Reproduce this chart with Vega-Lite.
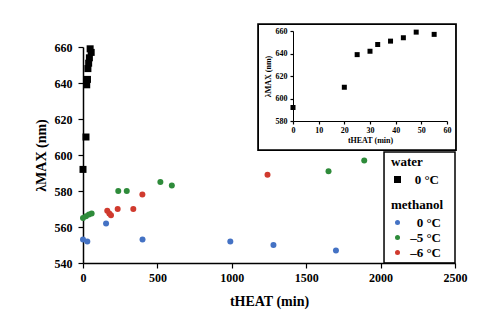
{
  "$schema": "https://vega.github.io/schema/vega-lite/v6.json",
  "width": 372,
  "height": 216,
  "autosize": "none",
  "padding": {"left": 83, "top": 47, "right": 45, "bottom": 71},
  "background": "white",
  "config": {
    "font": "Liberation Serif",
    "view": {"stroke": null},
    "axis": {
      "domainColor": "black", "domainWidth": 1.5, "tickColor": "black", "tickWidth": 1.2,
      "labelColor": "black", "titleColor": "black", "labelFont": "Liberation Serif", "titleFont": "Liberation Serif",
      "labelFontWeight": "bold", "titleFontWeight": "bold", "grid": false, "labelOverlap": false
    },
    "legend": {"titleFont": "Liberation Serif", "labelFont": "Liberation Serif"}
  },
  "datasets": {
    "water": [
      {"temp": "0 °C", "t": 0, "lam": 592},
      {"temp": "0 °C", "t": 20, "lam": 610},
      {"temp": "0 °C", "t": 25, "lam": 639},
      {"temp": "0 °C", "t": 30, "lam": 642},
      {"temp": "0 °C", "t": 33, "lam": 648},
      {"temp": "0 °C", "t": 38, "lam": 651},
      {"temp": "0 °C", "t": 43, "lam": 654},
      {"temp": "0 °C", "t": 48, "lam": 659},
      {"temp": "0 °C", "t": 55, "lam": 657}
    ],
    "methanol": [
      {"temp": "0 °C", "t": 0, "lam": 553},
      {"temp": "0 °C", "t": 29, "lam": 552},
      {"temp": "0 °C", "t": 155, "lam": 562},
      {"temp": "0 °C", "t": 400, "lam": 553},
      {"temp": "0 °C", "t": 990, "lam": 552},
      {"temp": "0 °C", "t": 1280, "lam": 550},
      {"temp": "0 °C", "t": 1700, "lam": 547},
      {"temp": "–5 °C", "t": 0, "lam": 565},
      {"temp": "–5 °C", "t": 20, "lam": 566},
      {"temp": "–5 °C", "t": 40, "lam": 567},
      {"temp": "–5 °C", "t": 58, "lam": 567.5},
      {"temp": "–5 °C", "t": 237, "lam": 580},
      {"temp": "–5 °C", "t": 294, "lam": 580},
      {"temp": "–5 °C", "t": 520, "lam": 585},
      {"temp": "–5 °C", "t": 597, "lam": 583},
      {"temp": "–5 °C", "t": 1650, "lam": 591},
      {"temp": "–5 °C", "t": 1890, "lam": 597},
      {"temp": "–6 °C", "t": 163, "lam": 569},
      {"temp": "–6 °C", "t": 177, "lam": 567.5},
      {"temp": "–6 °C", "t": 188, "lam": 566.5},
      {"temp": "–6 °C", "t": 233, "lam": 570},
      {"temp": "–6 °C", "t": 338, "lam": 570},
      {"temp": "–6 °C", "t": 399, "lam": 578},
      {"temp": "–6 °C", "t": 1240, "lam": 589}
    ]
  },
  "layer": [
    {
      "layer": [
        {
          "data": {"name": "methanol"},
          "mark": {"type": "point", "shape": "circle", "filled": true, "size": 36, "opacity": 1},
          "encoding": {
            "x": {"field": "t", "type": "quantitative", "scale": {"domain": [0, 2500], "nice": false, "zero": false},
              "axis": {"values": [0, 500, 1000, 1500, 2000, 2500], "tickCount": 20, "format": "d", "title": "tHEAT (min)", "labelFontSize": 12, "titleFontSize": 14, "tickSize": 5, "labelPadding": 4, "titlePadding": 11, "labelFlush": false}},
            "y": {"field": "lam", "type": "quantitative", "scale": {"domain": [540, 660], "nice": false, "zero": false},
              "axis": {"values": [540, 560, 580, 600, 620, 640, 660], "tickCount": 20, "format": "d", "title": "λMAX (nm)", "labelFontSize": 12, "titleFontSize": 14, "tickSize": 5, "labelPadding": 6, "titlePadding": 6, "labelOverlap": false}},
            "color": {"field": "temp", "type": "nominal",
              "scale": {"domain": ["0 °C", "–5 °C", "–6 °C"], "range": ["#4472c4", "#2e8b3a", "#d03a2e"]},
              "legend": {"title": "methanol", "orient": "none", "legendX": 308, "legendY": 152,
                "titleFontSize": 13, "titleFontWeight": "bold", "titleColor": "black", "titlePadding": 4,
                "labelFontSize": 13, "labelFontWeight": "bold", "labelAlign": "right", "labelOffset": 37,
                "symbolType": "circle", "symbolSize": 25, "rowPadding": 1, "padding": 0,
                "encode": {"labels": {"update": {"fill": {"signal": "datum.label == '0 °C' ? '#4472c4' : (datum.label == '–5 °C' ? '#2e8b3a' : '#d03a2e')"}}}}}}
          }
        },
        {
          "data": {"name": "water"},
          "mark": {"type": "point", "filled": true, "size": 49, "opacity": 1, "color": "black"},
          "encoding": {
            "x": {"field": "t", "type": "quantitative"},
            "y": {"field": "lam", "type": "quantitative"},
            "shape": {"field": "temp", "type": "nominal", "scale": {"domain": ["0 °C"], "range": ["square"]},
              "legend": {"title": "water", "orient": "none", "legendX": 308, "legendY": 109,
                "titleFontSize": 13, "titleFontWeight": "bold", "titleColor": "black", "titlePadding": 4,
                "labelFontSize": 13, "labelFontWeight": "bold", "labelColor": "black", "labelAlign": "right", "labelOffset": 35,
                "symbolSize": 49, "symbolFillColor": "black", "symbolStrokeColor": "black", "padding": 0}}
          }
        },
        {
          "data": {"values": [{}]},
          "mark": {"type": "rect", "fillOpacity": 0, "stroke": "black", "strokeWidth": 1.5},
          "encoding": {
            "x": {"datum": 2023, "type": "quantitative"},
            "x2": {"datum": 2500},
            "y": {"datum": 601.7, "type": "quantitative"},
            "y2": {"datum": 540}
          }
        }
      ]
    },
    {
      "layer": [
        {
          "data": {"values": [{}]},
          "mark": {"type": "rect", "fillOpacity": 0, "stroke": "black", "strokeWidth": 1.8},
          "encoding": {
            "x": {"datum": -13.6, "type": "quantitative", "scale": {"domain": [0, 60], "range": [210, 364], "nice": false, "zero": false},
              "axis": {"orient": "bottom", "offset": -142, "values": [0, 10, 20, 30, 40, 50, 60], "tickCount": 20, "title": "tHEAT (min)", "labelFontSize": 8, "titleFontSize": 8, "tickSize": 3, "labelPadding": 2, "titlePadding": 2, "domainWidth": 1, "labelFlush": false}},
            "x2": {"datum": 63.5},
            "y": {"datum": 666.2, "type": "quantitative", "scale": {"domain": [580, 660], "range": [74, -16], "nice": false, "zero": false},
              "axis": {"orient": "left", "offset": -210, "values": [580, 600, 620, 640, 660], "tickCount": 20, "title": "λMAX (nm)", "labelFontSize": 8, "titleFontSize": 8, "tickSize": 3, "labelPadding": 3, "titlePadding": 3, "domainWidth": 1}},
            "y2": {"datum": 554.2}
          }
        },
        {
          "data": {"name": "water"},
          "mark": {"type": "point", "shape": "square", "filled": true, "size": 25, "opacity": 1, "color": "black"},
          "encoding": {
            "x": {"field": "t", "type": "quantitative"},
            "y": {"field": "lam", "type": "quantitative"}
          }
        }
      ]
    }
  ],
  "resolve": {"scale": {"x": "independent", "y": "independent"}, "axis": {"x": "independent", "y": "independent"}}
}
